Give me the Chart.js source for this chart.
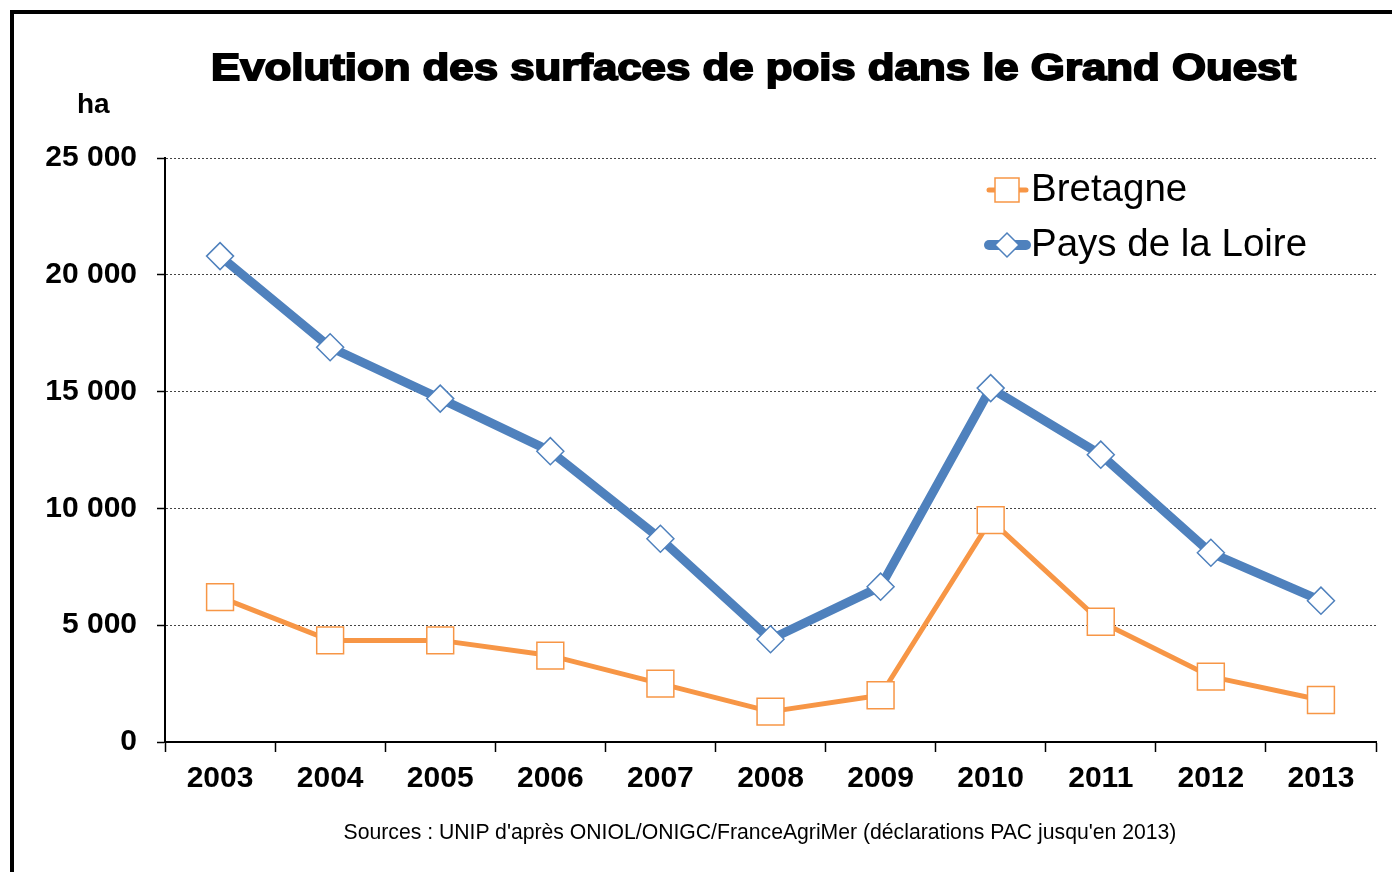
<!DOCTYPE html>
<html>
<head>
<meta charset="utf-8">
<script src="https://cdn.jsdelivr.net/npm/chart.js@4.4.1/dist/chart.umd.min.js"></script>
<style>
  body { margin: 0; background: #fff; }
  #wrap { position: relative; width: 1392px; height: 872px; overflow: hidden; }
  #frame { position: absolute; left: 10px; top: 10px; width: 1400px; height: 900px; border: 4px solid #000; }
  #chart { position: absolute; left: 0; top: 0; }
  .txt { position: absolute; color: #000; white-space: nowrap; line-height: 1; }
  #title { top: 47px; left: 211px; font: bold 37px "Liberation Sans"; transform-origin: 0 0; -webkit-text-stroke: 1.8px #000; }
  #unit { top: 88px; left: 77px; font: bold 28px "Liberation Sans"; }
  #source { top: 820px; left: 0; width: 1520px; text-align: center; font: 21.2px "Liberation Sans"; }
</style>
</head>
<body>
<div id="wrap">
  <div id="frame"></div>
  <canvas id="chart" width="1392" height="872"></canvas>
  <div class="txt" id="title">Evolution des surfaces de pois dans le Grand Ouest</div>
  <div class="txt" id="unit">ha</div>
  <div class="txt" id="source">Sources : UNIP d'après ONIOL/ONIGC/FranceAgriMer (déclarations PAC jusqu'en 2013)</div>
</div>
<script>
const years = ["2003", "2004", "2005", "2006", "2007", "2008", "2009", "2010", "2011", "2012", "2013"];
const bretagne = [6200, 4350, 4350, 3700, 2500, 1300, 2000, 9500, 5150, 2800, 1800];
const paysDeLaLoire = [20800, 16900, 14700, 12450, 8700, 4400, 6650, 15150, 12300, 8100, 6050];
const yTicks = [0, 5000, 10000, 15000, 20000, 25000];

// fit the title to the width it has in the picture
const title = document.getElementById("title");
title.style.transform = "scaleX(" + (1085 / title.offsetWidth) + ")";

function fmt(v) {
    return String(v).replace(/\B(?=(\d{3})+(?!\d))/g, " ");
}

const orange = "#F79646";
const blue = "#4F81BD";

const lineLegend = {
    id: "lineLegend",
    afterDraw(chart) {
        const { ctx } = chart;
        const items = [
            { label: "Bretagne", color: orange, width: 5, shape: "rect", y: 190 },
            { label: "Pays de la Loire", color: blue, width: 10, shape: "diamond", y: 245 }
        ];
        ctx.save();
        items.forEach(it => {
            ctx.strokeStyle = it.color;
            ctx.lineWidth = it.width;
            ctx.lineCap = "round";
            ctx.beginPath();
            ctx.moveTo(989, it.y);
            ctx.lineTo(1026, it.y);
            ctx.stroke();
            ctx.fillStyle = "#fff";
            ctx.lineWidth = 1.5;
            ctx.beginPath();
            if (it.shape === "rect") {
                ctx.rect(995, it.y - 12, 24, 24);
            } else {
                ctx.moveTo(995, it.y);
                ctx.lineTo(1007, it.y - 12);
                ctx.lineTo(1019, it.y);
                ctx.lineTo(1007, it.y + 12);
                ctx.closePath();
            }
            ctx.fill();
            ctx.stroke();
            ctx.fillStyle = "#000";
            ctx.font = "38.5px 'Liberation Sans'";
            ctx.textAlign = "left";
            ctx.textBaseline = "middle";
            ctx.fillText(it.label, 1031, it.y);
        });
        ctx.restore();
    }
};

new Chart(document.getElementById("chart"), {
    type: "line",
    data: {
        labels: years,
        datasets: [
            {
                label: "Bretagne",
                data: bretagne,
                borderColor: orange,
                borderWidth: 5,
                borderJoinStyle: "round",
                pointStyle: "rect",
                pointRadius: 19,
                pointBackgroundColor: "#fff",
                pointBorderColor: orange,
                pointBorderWidth: 1.5,
                tension: 0
            },
            {
                label: "Pays de la Loire",
                data: paysDeLaLoire,
                borderColor: blue,
                borderWidth: 9,
                borderJoinStyle: "round",
                pointStyle: "rectRot",
                pointRadius: 13.5,
                pointBackgroundColor: "#fff",
                pointBorderColor: blue,
                pointBorderWidth: 1.5,
                tension: 0
            }
        ]
    },
    options: {
        responsive: false,
        devicePixelRatio: 1,
        animation: false,
        events: [],
        layout: { autoPadding: false, padding: { left: 0, top: 158, right: 16, bottom: 70 } },
        plugins: {
            legend: { display: false },
            title: { display: false },
            tooltip: { enabled: false }
        },
        scales: {
            x: {
                offset: true,
                grid: {
                    offset: true,
                    drawOnChartArea: false,
                    tickLength: 10,
                    tickColor: "#000",
                    tickWidth: 1.5
                },
                border: { color: "#000", width: 2 },
                ticks: {
                    color: "#000",
                    padding: 9,
                    font: { family: "Liberation Sans", size: 30, weight: "bold" }
                },
                afterFit(scale) {
                    scale.height = 60;
                    scale.paddingLeft = 0;
                    scale.paddingRight = 0;
                }
            },
            y: {
                min: 0,
                max: 25000,
                afterBuildTicks(scale) { scale.ticks = yTicks.map(v => ({ value: v })); },
                grid: {
                    color: "#444",
                    lineWidth: 1,
                    tickLength: 8,
                    tickColor: "#000",
                    tickWidth: 1.5,
                    tickBorderDash: []
                },
                border: { color: "#000", width: 2, dash: [2, 2] },
                ticks: {
                    color: "#000",
                    padding: 20,
                    font: { family: "Liberation Sans", size: 30, weight: "bold" },
                    callback: v => fmt(v)
                },
                afterFit(scale) { scale.width = 165; }
            }
        }
    },
    plugins: [lineLegend]
});
</script>
</body>
</html>
